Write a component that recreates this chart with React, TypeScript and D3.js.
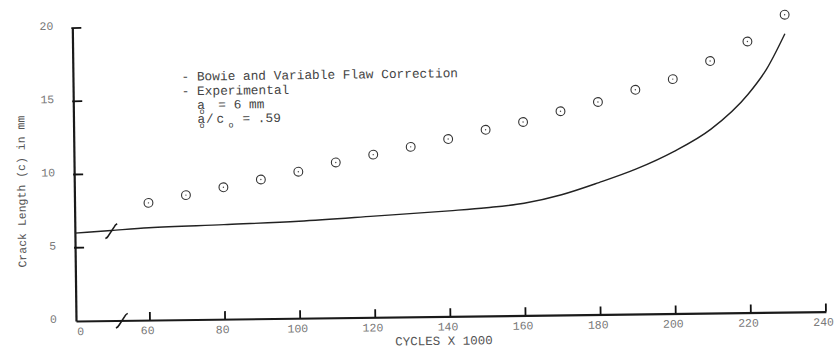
import { useEffect, useRef } from "react";
import * as d3 from "d3";

// experimental points (cycles x 1000 -> crack length mm)
const expCycles = [60, 70, 80, 90, 100, 110, 120, 130, 140, 150, 160, 170, 180, 190, 200, 210, 220, 230];
const expLength = [8.0, 8.5, 9.0, 9.5, 10.0, 10.6, 11.1, 11.6, 12.1, 12.7, 13.2, 13.9, 14.5, 15.3, 16.0, 17.2, 18.5, 20.3];

// Bowie and Variable Flaw Correction prediction
const bowieCycles = [0, 50, 60, 80, 100, 120, 140, 150, 160, 170, 180, 190, 200, 210, 220, 225, 230];
const bowieLength = [6.0, 6.15, 6.3, 6.45, 6.62, 6.9, 7.2, 7.38, 7.65, 8.2, 9.0, 9.9, 11.05, 12.55, 14.9, 16.6, 19.0];

const xTicks = [0, 60, 80, 100, 120, 140, 160, 180, 200, 220, 240];
const yTicks = [0, 5, 10, 15, 20];
const legendLines = ["- Bowie and Variable Flaw Correction", "- Experimental"];

const MONO = "'Liberation Mono', 'DejaVu Sans Mono', monospace";

export default function App() {
  const ref = useRef<SVGSVGElement>(null);

  useEffect(() => {
    if (!ref.current) return;
    const svg = d3.select(ref.current);
    svg.selectAll("*").remove();

    // broken x axis: 0..50 squeezed in front of the break
    const x = d3.scaleLinear().domain([0, 50, 240]).range([76, 112.4, 826]);
    const y = d3.scaleLinear().domain([0, 20]).range([321, 28]);

    // the scanned page is slightly tilted
    const g = svg
      .append("g")
      .attr("transform", `rotate(-0.72, ${x(0)}, ${y(0)})`);

    // -----------------------------
    // Axes
    // -----------------------------
    const xAxis = g
      .append("g")
      .attr("transform", `translate(0,${y(0)})`)
      .call(
        d3
          .axisBottom(x)
          .tickValues(xTicks)
          .tickSize(0)
          .tickPadding(6)
          .tickFormat((d) => String(d))
      );
    xAxis.select(".domain").attr("stroke", "#1a1a1a").attr("stroke-width", 2.2);
    xAxis
      .selectAll<SVGTextElement, number>(".tick text")
      .attr("dx", (d) => (d === 0 ? 4 : -3))
      .style("font-family", MONO)
      .style("font-size", "11.5px")
      .attr("fill", "#777");

    // inward tick marks on x (one path)
    const xTickPath = xTicks
      .filter((d) => d > 0)
      .map((d) => `M${x(d)},${y(0)}V${y(0) - 8}`)
      .join("");
    g.append("path")
      .attr("d", xTickPath)
      .attr("fill", "none")
      .attr("stroke", "#111")
      .attr("stroke-width", 1.8);

    const yAxis = g
      .append("g")
      .attr("transform", `translate(${x(0)},0)`)
      .call(d3.axisLeft(y).tickValues(yTicks).tickSize(0).tickPadding(19));
    yAxis.select(".domain").attr("stroke", "#1a1a1a").attr("stroke-width", 2.2);
    yAxis
      .selectAll(".tick text")
      .attr("dy", "0.1em")
      .style("font-family", MONO)
      .style("font-size", "11.5px")
      .attr("fill", "#777");

    // inward tick marks on y
    const yTickPath = yTicks
      .filter((d) => d > 0)
      .map((d) => `M${x(0) - 1},${y(d)}H${x(0) + 9}`)
      .join("");
    g.append("path")
      .attr("d", yTickPath)
      .attr("fill", "none")
      .attr("stroke", "#111")
      .attr("stroke-width", 1.8);

    g.append("text")
      .attr("x", 395)
      .attr("y", 349.5)
      .style("font-family", MONO)
      .style("font-size", "12.5px")
      .attr("fill", "#555")
      .text("CYCLES X 1000");

    g.append("text")
      .attr("transform", `translate(27,191) rotate(-90)`)
      .attr("text-anchor", "middle")
      .style("font-family", MONO)
      .style("font-size", "11.5px")
      .attr("fill", "#555")
      .text("Crack Length (c) in mm");

    // -----------------------------
    // Prediction curve
    // -----------------------------
    const bowie = bowieCycles.map((c, i) => [c, bowieLength[i]] as [number, number]);
    const line = d3
      .line<[number, number]>()
      .x((d) => x(d[0]))
      .y((d) => y(d[1]))
      .curve(d3.curveMonotoneX);

    g.append("path")
      .datum(bowie)
      .attr("d", line)
      .attr("fill", "none")
      .attr("stroke", "#222")
      .attr("stroke-width", 1.4);

    // break marks
    const breakMark = (cx: number, cy: number) =>
      `M${cx - 6},${cy + 7.5} q2,-0.5 3,-2.5 l6,-9 q1,-2 3,-3`;
    g.append("path")
      .attr("d", breakMark(x(50), y(6.12)))
      .attr("fill", "none")
      .attr("stroke", "#1a1a1a")
      .attr("stroke-width", 1.6);
    g.append("path")
      .attr("d", breakMark(x(52.5), y(0)))
      .attr("fill", "none")
      .attr("stroke", "#1a1a1a")
      .attr("stroke-width", 1.6);

    // -----------------------------
    // Experimental points
    // -----------------------------
    const pts = expCycles.map((c, i) => ({ c, v: expLength[i] }));
    g.selectAll("circle.exp")
      .data(pts)
      .join("circle")
      .attr("class", "exp")
      .attr("cx", (d) => x(d.c))
      .attr("cy", (d) => y(d.v))
      .attr("r", 4.4)
      .attr("fill", "none")
      .attr("stroke", "#333")
      .attr("stroke-width", 1.1);
    g.selectAll("circle.dot")
      .data(pts)
      .join("circle")
      .attr("class", "dot")
      .attr("cx", (d) => x(d.c))
      .attr("cy", (d) => y(d.v))
      .attr("r", 0.7)
      .attr("fill", "#444");

    // -----------------------------
    // Legend / notes
    // -----------------------------
    const leg = g.append("g").style("font-family", MONO).attr("fill", "#444");
    legendLines.forEach((t, i) => {
      leg.append("text")
        .attr("x", 184.6)
        .attr("y", 82 + i * 14.5)
        .style("font-size", "12.8px")
        .style("white-space", "pre")
        .text(t);
    });

    // one text per note line, subscripts as tspans
    const note = (parts: { t: string; x: number; sub?: boolean }[], base: number) => {
      const t = leg
        .append("text")
        .attr("y", base)
        .style("font-size", "12.8px")
        .style("white-space", "pre");
      parts.forEach((p) => {
        t.append("tspan")
          .attr("x", p.x)
          .attr("y", p.sub ? base + 5 : base)
          .style("font-size", p.sub ? "8.5px" : "12.8px")
          .text(p.t);
      });
    };
    note(
      [
        { t: "a", x: 200 },
        { t: "o", x: 202, sub: true },
        { t: "= 6 mm", x: 221 },
      ],
      110.5
    );
    note(
      [
        { t: "a", x: 200 },
        { t: "o", x: 202, sub: true },
        { t: "/", x: 208.5 },
        { t: "c", x: 219 },
        { t: "o", x: 231, sub: true },
        { t: "= .59", x: 245 },
      ],
      124.5
    );
  }, []);

  return (
    <svg
      ref={ref}
      width={840}
      height={353}
      style={{ position: "absolute", left: 0, top: 0, background: "#fff" }}
    />
  );
}
